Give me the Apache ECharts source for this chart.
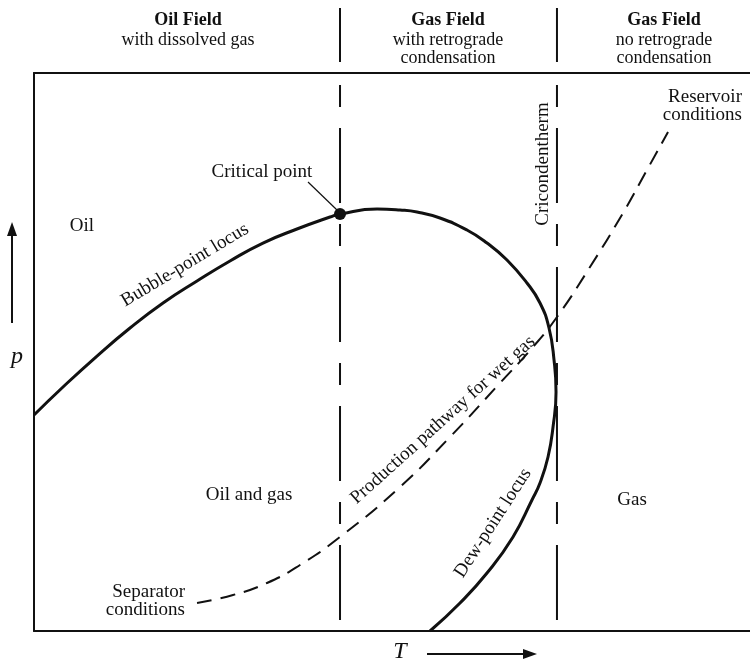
<!DOCTYPE html>
<html><head><meta charset="utf-8">
<script src="https://cdn.jsdelivr.net/npm/echarts@6/dist/echarts.min.js"></script>
<style>html,body{margin:0;padding:0;background:#fff}#c{width:750px;height:666px}</style>
</head><body><div id="c"></div>
<script>
// Schematic phase diagram, T (x) and p (y) in arbitrary units 0..100
const bubblePointT = [0, 4.05, 8.80, 13.41, 18.02, 22.77, 27.37, 31.98, 36.73, 41.34, 42.74];
const bubblePointP = [38.71, 43.73, 49.28, 54.30, 58.78, 62.72, 66.31, 69.53, 72.04, 74.19, 74.73];
const dewPointT = [42.74, 47.91, 51.12, 53.49, 56.70, 60.47, 63.27, 66.06, 68.85, 70.67, 71.93, 72.63, 72.91, 72.49, 71.79, 70.67, 69.55, 66.90, 63.27, 59.50, 55.31];
const dewPointP = [74.73, 75.63, 75.45, 75.09, 74.01, 71.86, 69.53, 66.49, 62.37, 58.78, 54.30, 48.57, 42.83, 36.56, 31.18, 26.52, 23.48, 16.85, 10.39, 5.02, 0];
const pathwayT = [22.77, 27.79, 32.54, 37.15, 42.74, 51.12, 58.10, 65.08, 69.69, 73.04, 77.65, 82.26, 85.61, 88.55];
const pathwayP = [5.02, 6.45, 8.60, 11.83, 16.85, 25.81, 34.77, 44.44, 50.90, 56.27, 65.23, 74.91, 82.62, 89.43];
const criticalPoint = [42.74, 74.73];
const boundaryT = [42.74, 73.04]; // critical temperature, cricondentherm
const boundaryInsideP = [97.85, 1.97];
const boundaryHeaderP = [111.65, 101.97];
const headerT = [21.51, 57.82, 87.99];
const headerTitles = ['Oil Field', 'Gas Field', 'Gas Field'];
const headerSubs = [['with dissolved gas'], ['with retrograde', 'condensation'], ['no retrograde', 'condensation']];
const headerP = [109.5, 105.91, 102.69];

const zip = (a, b) => a.map((v, i) => [v, b[i]]);
const INK = '#111';
const SERIF = '"Liberation Serif","Times New Roman",serif';

const chart = echarts.init(document.getElementById('c'), null, {renderer: 'canvas'});
const axisCommon = {
  type: 'value', min: 0, max: 100,
  axisTick: {show: false}, axisLabel: {show: false}, splitLine: {show: false}
};
// phase envelope: bubble-point locus joined to dew-point locus at the critical point
const envelope = zip(bubblePointT, bubblePointP).slice(0, -1).concat(zip(dewPointT, dewPointP));
const series = [
  {type: 'line', name: 'Phase envelope', data: envelope, smooth: 0.5, symbol: 'none',
   lineStyle: {color: INK, width: 3}},
  {type: 'line', name: 'Production pathway', data: zip(pathwayT, pathwayP), smooth: 0.5, symbol: 'none',
   lineStyle: {color: INK, width: 2, type: [15, 9]}},
];
boundaryT.forEach(t => {
  series.push({type: 'line', data: boundaryInsideP.map(p => [t, p]), symbol: 'none', clip: false,
    lineStyle: {color: INK, width: 2, type: [22, 21, 75, 21]}});
  series.push({type: 'line', data: boundaryHeaderP.map(p => [t, p]), symbol: 'none', clip: false,
    lineStyle: {color: INK, width: 2}});
});
series.push({type: 'scatter', data: [criticalPoint], symbolSize: 12, itemStyle: {color: INK, opacity: 1}, z: 5});
// leader line for critical point label
series.push({type: 'line', data: [[38.27, 80.47], [42.32, 75.45]], symbol: 'none', lineStyle: {color: INK, width: 1.2}});

chart.setOption({
  animation: false,
  backgroundColor: '#fff',
  grid: {left: 34, right: 0, top: 73, bottom: 35, containLabel: false},
  xAxis: [
    Object.assign({}, axisCommon, {position: 'bottom', axisLine: {show: true, onZero: false, lineStyle: {color: INK, width: 2}}}),
    Object.assign({}, axisCommon, {position: 'top', axisLine: {show: true, onZero: false, lineStyle: {color: INK, width: 2}}})
  ],
  yAxis: Object.assign({}, axisCommon, {position: 'left', axisLine: {show: true, onZero: false, lineStyle: {color: INK, width: 2}}}),
  series: series
});

const px = (t, p) => chart.convertToPixel({gridIndex: 0}, [t, p]);
const graphics = [];
function txt(t, p, text, opts) {
  const [x, y] = px(t, p);
  opts = opts || {};
  graphics.push({
    type: 'text', x: x, y: y, rotation: (opts.rot || 0) * Math.PI / 180, z: 10,
    style: {
      text: text, fill: INK,
      font: (opts.italic ? 'italic ' : '') + (opts.bold ? 'bold ' : '') + (opts.size || 19) + 'px ' + SERIF,
      textAlign: opts.align || 'center', align: opts.align || 'center',
      textVerticalAlign: 'middle', verticalAlign: 'middle'
    }
  });
}
// header
headerT.forEach((t, i) => {
  txt(t, headerP[0], headerTitles[i], {bold: true, size: 18});
  headerSubs[i].forEach((s, j) => txt(t, headerP[j + 1], s, {size: 18}));
});
txt(6.70, 72.58, 'Oil');
txt(31.84, 82.26, 'Critical point');
txt(21.09, 65.59, 'Bubble-point locus', {rot: 31});
txt(71.09, 83.69, 'Cricondentherm', {rot: 90});
txt(98.88, 95.70, 'Reservoir', {align: 'right'});
txt(98.88, 92.47, 'conditions', {align: 'right'});
txt(-2.37, 49.10, 'p', {italic: true, size: 24});
txt(57.12, 37.81, 'Production pathway for wet gas', {rot: 42});
txt(30.03, 24.37, 'Oil and gas');
txt(83.52, 23.48, 'Gas');
txt(64.11, 19.35, 'Dew-point locus', {rot: 57});
txt(21.09, 6.99, 'Separator', {align: 'right'});
txt(21.09, 3.76, 'conditions', {align: 'right'});
txt(51.12, -3.76, 'T', {italic: true, size: 24});
// axis arrows
function arrow(from, tip, dir) {
  const [x1, y1] = px(from[0], from[1]);
  const [x, y] = px(tip[0], tip[1]);
  let pts, end;
  if (dir === 'up') { pts = [[x, y], [x - 5, y + 14], [x + 5, y + 14]]; end = [x, y + 12]; }
  else { pts = [[x, y], [x - 14, y - 5], [x - 14, y + 5]]; end = [x - 12, y]; }
  graphics.push({type: 'line', shape: {x1: x1, y1: y1, x2: end[0], y2: end[1]}, style: {stroke: INK, lineWidth: 2}, z: 10});
  graphics.push({type: 'polygon', shape: {points: pts}, style: {fill: INK}, z: 10});
}
arrow([-3.07, 55.20], [-3.07, 73.30], 'up');
arrow([54.89, -4.12], [70.25, -4.12], 'right');
chart.setOption({graphic: graphics});
</script></body></html>
